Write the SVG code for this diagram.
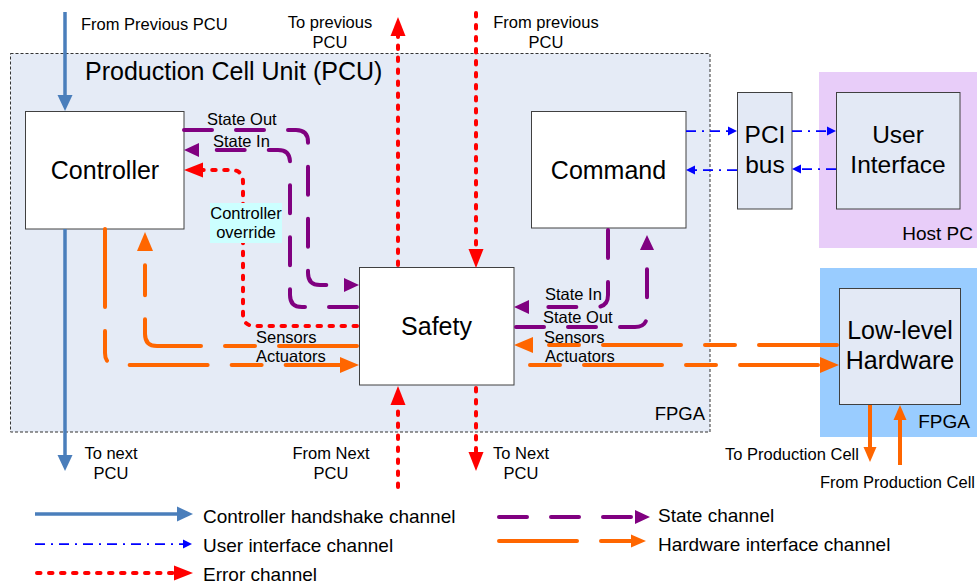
<svg xmlns="http://www.w3.org/2000/svg" width="977" height="588" viewBox="0 0 977 588">
  <style>
    text { font-family: "Liberation Sans", Arial, sans-serif; fill: #000; }
    .big { font-size: 25px; text-anchor: middle; }
    .lbl { font-size: 16.5px; }
    .mid { text-anchor: middle; }
    .end { text-anchor: end; }
    .leg { font-size: 19px; }
    .box { fill: #ffffff; stroke: #404040; stroke-width: 1; }
    .pbox { fill: #e3e9f5; stroke: #404040; stroke-width: 1; }
    .hs { stroke: #4a7ebb; stroke-width: 3.5; fill: none; }
    .ui { stroke: #0000ff; stroke-width: 1.75; fill: none; stroke-dasharray: 10 6 2 6; }
    .err { stroke: #ff0000; stroke-width: 4; fill: none; stroke-dasharray: 3.5 8.5; stroke-linecap: round; }
    .st { stroke: #800080; stroke-width: 4; fill: none; stroke-dasharray: 28 24; stroke-linecap: round; }
    .hw { stroke: #ff6600; stroke-width: 4; fill: none; stroke-dasharray: 78 24 30 24; stroke-linecap: round; }
    .hws { stroke: #ff6600; stroke-width: 4; fill: none; }
  </style>
  <defs>
    <marker id="ah-hs" markerUnits="userSpaceOnUse" orient="auto" markerWidth="20" markerHeight="20" refX="0" refY="0" overflow="visible">
      <path d="M0,-7.5 L16,0 L0,7.5 z" fill="#4a7ebb"/>
    </marker>
    <marker id="ah-ui" markerUnits="userSpaceOnUse" orient="auto" markerWidth="12" markerHeight="12" refX="0" refY="0" overflow="visible">
      <path d="M0,-4.5 L9,0 L0,4.5 z" fill="#0000ff"/>
    </marker>
    <marker id="ah-err" markerUnits="userSpaceOnUse" orient="auto" markerWidth="22" markerHeight="22" refX="0" refY="0" overflow="visible">
      <path d="M0,-7.5 L19,0 L0,7.5 z" fill="#ff0000"/>
    </marker>
    <marker id="ah-st" markerUnits="userSpaceOnUse" orient="auto" markerWidth="18" markerHeight="18" refX="0" refY="0" overflow="visible">
      <path d="M0,-7 L15,0 L0,7 z" fill="#800080"/>
    </marker>
    <marker id="ah-hw" markerUnits="userSpaceOnUse" orient="auto" markerWidth="22" markerHeight="22" refX="0" refY="0" overflow="visible">
      <path d="M0,-8 L19,0 L0,8 z" fill="#ff6600"/>
    </marker>
    <marker id="ah-hws" markerUnits="userSpaceOnUse" orient="auto" markerWidth="18" markerHeight="18" refX="0" refY="0" overflow="visible">
      <path d="M0,-6.5 L15,0 L0,6.5 z" fill="#ff6600"/>
    </marker>
  </defs>

  <rect width="977" height="588" fill="#ffffff"/>

  <!-- Production Cell Unit container -->
  <g id="pcu">
    <rect x="10.5" y="53.5" width="699.5" height="378.5" fill="#e5ebf6" stroke="#333" stroke-width="1" stroke-dasharray="3 2"/>
    <text x="85" y="80" style="font-size:25px">Production Cell Unit (PCU)</text>
    <text class="end" x="705" y="420" style="font-size:18.5px">FPGA</text>
  </g>

  <!-- Host PC region -->
  <g id="host-pc">
    <rect x="819" y="72" width="158" height="176" fill="#e8cdf9"/>
    <text class="end" x="973" y="240" style="font-size:19px">Host PC</text>
  </g>

  <!-- Low-level FPGA region -->
  <g id="hw-fpga">
    <rect x="820" y="268" width="157" height="169" fill="#99ccff"/>
    <text class="end" x="970" y="428" style="font-size:19px">FPGA</text>
  </g>

  <g id="controller">
    <rect class="box" x="25.5" y="111.5" width="158.5" height="117.5"/>
    <text class="big" x="105" y="179">Controller</text>
  </g>

  <g id="command">
    <rect class="box" x="531.5" y="111.5" width="154.5" height="116.5"/>
    <text class="big" x="608.5" y="179">Command</text>
  </g>

  <g id="safety">
    <rect class="box" x="359.5" y="267.5" width="154.5" height="117.5"/>
    <text class="big" x="436.5" y="335">Safety</text>
  </g>

  <g id="pci-bus">
    <rect class="pbox" x="737.5" y="92.5" width="54.5" height="116.5"/>
    <text class="big" x="765" y="143" style="font-size:24.5px">PCI</text>
    <text class="big" x="765" y="173" style="font-size:24.5px">bus</text>
  </g>

  <g id="user-interface">
    <rect class="pbox" x="836.5" y="92.5" width="123.5" height="116.5"/>
    <text class="big" x="898" y="143" style="font-size:24.5px">User</text>
    <text class="big" x="898" y="173" style="font-size:24.5px">Interface</text>
  </g>

  <g id="low-level-hardware">
    <rect class="pbox" x="839.5" y="288.5" width="121" height="116"/>
    <text class="big" x="900" y="339">Low-level</text>
    <text class="big" x="900" y="369">Hardware</text>
  </g>

  <!-- Connectors -->
  <g id="connectors">
    <!-- controller handshake -->
    <path class="hs" d="M65,12 V95" marker-end="url(#ah-hs)"/>
    <path class="hs" d="M65,229 V455" marker-end="url(#ah-hs)"/>

    <!-- error channel -->
    <path class="err" d="M398,265 V36" marker-end="url(#ah-err)"/>
    <path class="err" d="M476,13 V249" marker-end="url(#ah-err)"/>
    <path class="err" d="M398,487 V405" marker-end="url(#ah-err)"/>
    <path class="err" d="M476,388 V452" marker-end="url(#ah-err)"/>
    <path class="err" d="M357,326 H255 Q243,326 243,314 V182 Q243,170 231,170 H203" marker-end="url(#ah-err)"/>

    <!-- state channel -->
    <path class="st" d="M184,130 H296 Q308,130 308,142 V273 Q308,285 320,285 H344" marker-end="url(#ah-st)"/>
    <path class="st" d="M357,307 H302 Q290,307 290,295 V162 Q290,150 278,150 H199" marker-end="url(#ah-st)"/>
    <path class="st" d="M608,230 V295 Q608,307 596,307 H529" marker-end="url(#ah-st)"/>
    <path class="st" d="M516,327 H635 Q647,327 647,315 V250" marker-end="url(#ah-st)"/>

    <!-- hardware interface channel -->
    <path class="hw" d="M105,229 V353 Q105,365 117,365 H340" marker-end="url(#ah-hw)"/>
    <path class="hw" d="M357,346 H157 Q145,346 145,334 V251" marker-end="url(#ah-hw)"/>
    <path class="hw" d="M837,345 H533" marker-end="url(#ah-hw)"/>
    <path class="hw" style="stroke-dashoffset:102" d="M530,365 H820" marker-end="url(#ah-hw)"/>
    <path class="hws" d="M870,405 V447" marker-end="url(#ah-hws)"/>
    <path class="hws" d="M900,465 V420" marker-end="url(#ah-hws)"/>

    <!-- user interface channel -->
    <path class="ui" d="M686,131 H728" marker-end="url(#ah-ui)"/>
    <path class="ui" d="M737,170 H695" marker-end="url(#ah-ui)"/>
    <path class="ui" d="M792,131 H827" marker-end="url(#ah-ui)"/>
    <path class="ui" d="M836,169 H801" marker-end="url(#ah-ui)"/>
  </g>

  <!-- Connector labels -->
  <g id="labels" class="lbl">
    <text x="81" y="30">From Previous PCU</text>
    <text class="mid" x="330" y="28">To previous</text>
    <text class="mid" x="330" y="48">PCU</text>
    <text class="mid" x="546" y="28">From previous</text>
    <text class="mid" x="546" y="48">PCU</text>

    <text x="207" y="125">State Out</text>
    <text x="213" y="147">State In</text>

    <rect x="210" y="203" width="72" height="40" fill="#ccffff"/>
    <text class="mid" x="246" y="219">Controller</text>
    <text class="mid" x="246" y="238">override</text>

    <text x="256" y="343">Sensors</text>
    <text x="256" y="362">Actuators</text>

    <text x="545" y="300">State In</text>
    <text x="543" y="323">State Out</text>
    <text x="544" y="343">Sensors</text>
    <text x="545" y="362">Actuators</text>

    <text class="mid" x="111" y="459">To next</text>
    <text class="mid" x="111" y="479">PCU</text>
    <text class="mid" x="331" y="459">From Next</text>
    <text class="mid" x="331" y="479">PCU</text>
    <text class="mid" x="521" y="459">To Next</text>
    <text class="mid" x="521" y="479">PCU</text>

    <text x="725" y="460">To Production Cell</text>
    <text x="820" y="488">From Production Cell</text>
  </g>

  <!-- Legend -->
  <g id="legend">
    <path class="hs" d="M35,514 H177" marker-end="url(#ah-hs)"/>
    <text class="leg" x="203" y="523">Controller handshake channel</text>
    <path class="ui" d="M35,544 H183" marker-end="url(#ah-ui)"/>
    <text class="leg" x="203" y="552">User interface channel</text>
    <path class="err" d="M37,573 H174" marker-end="url(#ah-err)"/>
    <text class="leg" x="203" y="581">Error channel</text>

    <path class="st" d="M499,517 H635" marker-end="url(#ah-st)"/>
    <text class="leg" x="658" y="522">State channel</text>
    <path class="hw" d="M499,541 H631" marker-end="url(#ah-hws)"/>
    <text class="leg" x="658" y="551">Hardware interface channel</text>
  </g>
</svg>
